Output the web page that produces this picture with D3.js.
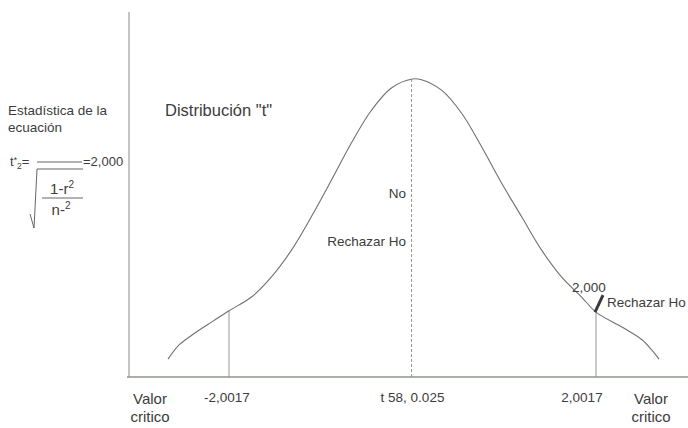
<!DOCTYPE html>
<html>
<head>
<meta charset="utf-8">
<script src="https://cdn.jsdelivr.net/npm/d3@7"></script>
<style>
  html, body { margin: 0; padding: 0; background: #fff; }
  svg { display: block; }
  text { font-family: "Liberation Sans", Arial, Helvetica, sans-serif; fill: #3c3c3c; }
</style>
</head>
<body>
<svg id="chart" width="688" height="428"></svg>
<script>
// ---- data ----
const curveT = [-2.667, -2.546, -2.361, -2.175, -2.0017, -1.760, -1.541, -1.322, -1.104, -0.885, -0.667,
  -0.448, -0.230, 0, 0.098, 0.317, 0.536, 0.754, 0.973, 1.191, 1.410, 1.628, 1.847,
  2.0017, 2.284, 2.503, 2.612, 2.689];
const curveDensity = [0.024, 0.043, 0.060, 0.075, 0.089, 0.107, 0.134, 0.170, 0.215, 0.264, 0.314,
  0.358, 0.388, 0.400, 0.399, 0.385, 0.354, 0.309, 0.260, 0.215, 0.170, 0.134, 0.107,
  0.087, 0.067, 0.050, 0.036, 0.024];
const criticalValues = [-2.0017, 2.0017];
const criticalLabels = ["-2,0017", "2,0017"];
const centerValue = 0;
const centerLabel = "t 58, 0.025";
const statisticValue = 2.0017;      // location of the computed statistic marker
const statisticLabel = "2,000";

const svg = d3.select("#chart");
const x = d3.scaleLinear().domain([-2.0017, 2.0017]).range([229, 596]);
const y = d3.scaleLinear().domain([0, 0.4]).range([377, 79]);
const pts = curveT.map((t, i) => [t, curveDensity[i]]);
const densityAt = t => {
  const i = curveT.indexOf(t);
  return i >= 0 ? curveDensity[i] : 0;
};

// axes
svg.append("line").attr("x1", 129).attr("x2", 129).attr("y1", 12).attr("y2", y(0))
  .attr("stroke", "#8a8a8a").attr("stroke-width", 1);
svg.append("line").attr("x1", 127).attr("x2", 688).attr("y1", y(0)).attr("y2", y(0))
  .attr("stroke", "#8e948c").attr("stroke-width", 1.3);

// curve
const line = d3.line().x(d => x(d[0])).y(d => y(d[1])).curve(d3.curveCatmullRom.alpha(0.5));
svg.append("path").datum(pts).attr("d", line)
  .attr("fill", "none").attr("stroke", "#707070").attr("stroke-width", 1.1);

// critical lines
svg.selectAll(".crit").data(criticalValues).enter().append("line")
  .attr("x1", d => x(d)).attr("x2", d => x(d))
  .attr("y1", d => y(densityAt(d))).attr("y2", y(0))
  .attr("stroke", "#8a8a8a").attr("stroke-width", 0.9);

// center dashed line
svg.append("line").attr("x1", x(centerValue) - 1).attr("x2", x(centerValue) - 1)
  .attr("y1", y(densityAt(centerValue))).attr("y2", y(0))
  .attr("stroke", "#8a8a8a").attr("stroke-width", 0.9).attr("stroke-dasharray", "3,2");

// statistic marker
const sx = x(statisticValue) - 1, sy = y(densityAt(statisticValue));
svg.append("line").attr("x1", sx).attr("y1", sy).attr("x2", sx + 8).attr("y2", sy - 17)
  .attr("stroke", "#3a3a3a").attr("stroke-width", 3);
svg.append("text").attr("x", sx - 6).attr("y", sy - 20).attr("text-anchor", "middle")
  .attr("font-size", 13.5).text(statisticLabel);
svg.append("text").attr("x", sx + 12).attr("y", sy - 5).attr("font-size", 13.5).text("Rechazar Ho");

// center labels
svg.append("text").attr("x", x(centerValue) - 6.5).attr("y", 198).attr("text-anchor", "end")
  .attr("font-size", 13.5).text("No");
svg.append("text").attr("x", x(centerValue) - 6.5).attr("y", 246).attr("text-anchor", "end")
  .attr("font-size", 13.5).text("Rechazar Ho");

// bottom labels
svg.selectAll(".critlab").data(criticalValues).enter().append("text")
  .attr("x", (d, i) => x(d) + (i === 0 ? -2 : -14)).attr("y", 402)
  .attr("text-anchor", "middle").attr("font-size", 13.5)
  .text((d, i) => criticalLabels[i]);
svg.append("text").attr("x", x(centerValue)).attr("y", 402).attr("text-anchor", "middle")
  .attr("font-size", 13.5).text(centerLabel);
[150, 651].forEach(cx => {
  svg.append("text").attr("x", cx).attr("y", 404).attr("text-anchor", "middle")
    .attr("font-size", 15).text("Valor");
  svg.append("text").attr("x", cx).attr("y", 422).attr("text-anchor", "middle")
    .attr("font-size", 15).text("critico");
});

// title & equation
svg.append("text").attr("x", 165).attr("y", 116).attr("font-size", 16.5).text("Distribución \"t\"");
svg.append("text").attr("x", 8).attr("y", 115).attr("font-size", 13.5).text("Estadística de la");
svg.append("text").attr("x", 8).attr("y", 132).attr("font-size", 13.5).text("ecuación");

const eq = svg.append("g");
const t1 = eq.append("text").attr("x", 10).attr("y", 166).attr("font-size", 13);
t1.append("tspan").text("t");
t1.append("tspan").attr("dy", -3).attr("font-size", 8.5).text("*");
t1.append("tspan").attr("dy", 6).attr("font-size", 8.5).text("2");
t1.append("tspan").attr("dy", -3).text("=");
eq.append("line").attr("x1", 37).attr("x2", 82).attr("y1", 162).attr("y2", 162)
  .attr("stroke", "#555").attr("stroke-width", 0.9);
eq.append("text").attr("x", 83).attr("y", 166).attr("font-size", 13).text("=2,000");
// radical
eq.append("path").attr("d", "M30,214 L34,228 L37,169 L83,169")
  .attr("fill", "none").attr("stroke", "#555").attr("stroke-width", 0.9);
const num = eq.append("text").attr("x", 62).attr("y", 194).attr("text-anchor", "middle").attr("font-size", 15);
num.append("tspan").text("1-r");
num.append("tspan").attr("dy", -6).attr("font-size", 10).text("2");
eq.append("line").attr("x1", 42).attr("x2", 83).attr("y1", 198).attr("y2", 198)
  .attr("stroke", "#555").attr("stroke-width", 0.9);
const den = eq.append("text").attr("x", 61).attr("y", 215).attr("text-anchor", "middle").attr("font-size", 15);
den.append("tspan").text("n-");
den.append("tspan").attr("dy", -6).attr("font-size", 10).text("2");
</script>
</body>
</html>
